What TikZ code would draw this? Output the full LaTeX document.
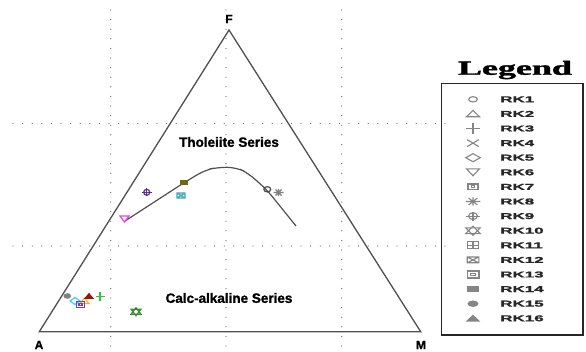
\documentclass[tikz,border=0pt]{standalone}
\usepackage{fontspec}
\usepackage{graphicx}
\setmainfont{Liberation Sans}
\newfontfamily\heavysans{Liberation Sans Bold}[FakeBold=1.2]
\newfontfamily\legserif{Liberation Serif Bold}[FakeBold=1.5]
\definecolor{gridgray}{HTML}{707070}
\definecolor{axisgray}{HTML}{505050}
\definecolor{leggray}{HTML}{858585}
\definecolor{rkmag}{HTML}{F040E0}
\definecolor{rkpurple}{HTML}{5B2C8A}
\definecolor{rkolive}{HTML}{6B6A10}
\definecolor{rkteal}{HTML}{40A8B0}
\definecolor{rkcyan}{HTML}{40D0F0}
\definecolor{rkviolet}{HTML}{7040B0}
\definecolor{rkorange}{HTML}{FFB020}
\definecolor{rkred}{HTML}{A01010}
\definecolor{rkgreen}{HTML}{30C040}
\definecolor{rkdgreen}{HTML}{3A8A3A}
\tikzset{
  x=1pt, y=-1pt,
  gridline/.style={gridgray, line width=1.3pt, line cap=round, dash pattern=on 0pt off 9.6pt},
  axisline/.style={axisgray, line width=1.3pt},
  vertexlabel/.style={font=\heavysans\fontsize{12}{14}\selectfont, inner sep=0pt},
  serieslabel/.style={font=\heavysans\fontsize{13.5}{15}\selectfont, inner sep=0pt},
  legitem/.style={font=\heavysans\fontsize{8.5}{10}\selectfont, inner sep=0pt, anchor=west, text=black!85},
  mk/.style={line width=1.2pt},
  legmark/.style={leggray, xscale=1.45, yscale=1.15, mk/.style={line width=1.1pt}},
  pics/rk1/.style={code={\draw[mk] (0,0) ellipse (3 and 2.3);}},
  pics/rk2/.style={code={\draw[mk] (-4.5,2.5) -- (4.5,2.5) -- (0,-3) -- cycle;}},
  pics/rk3/.style={code={\draw[mk] (-4.5,0) -- (4.5,0) (0,-4.5) -- (0,4.5);}},
  pics/rk4/.style={code={\draw[mk] (-4,-3) -- (4,3) (-4,3) -- (4,-3);}},
  pics/rk5/.style={code={\draw[mk] (-5,0) -- (0,-3.5) -- (5,0) -- (0,3.5) -- cycle;}},
  pics/rk6/.style={code={\draw[mk] (-4.5,-3) -- (4.5,-3) -- (0,3) -- cycle;}},
  pics/rk7/.style={code={\draw[line width=1.4pt] (-3.5,-2.5) rectangle (3.5,2.5); \draw[mk] (-1.3,-0.9) rectangle (1.3,0.9);}},
  pics/rk8/.style={code={\draw[mk] (-5,0) -- (5,0) (-3,-3) -- (3,3) (-3,3) -- (3,-3) (0,-3.5) -- (0,3.5);}},
  pics/rk9/.style={code={\draw[mk] (0,0) circle (3); \draw[mk] (-5,0) -- (5,0) (0,-4) -- (0,4);}},
  pics/rk10/.style={code={\draw[mk] (-5,2.5) -- (5,2.5) -- (0,-4) -- cycle; \draw[mk] (-5,-2.5) -- (5,-2.5) -- (0,4) -- cycle;}},
  pics/rk11/.style={code={\draw[mk] (-4,-3) rectangle (4,3) (0,-3) -- (0,3) (-4,0) -- (4,0);}},
  pics/rk12/.style={code={\draw[mk] (-4,-2.5) rectangle (4,2.5) (-4,-2.5) -- (4,2.5) (-4,2.5) -- (4,-2.5);}},
  pics/rk13/.style={code={\draw[line width=1.4pt] (-4,-3) rectangle (4,3); \draw[mk] (-1.5,-1.2) rectangle (1.5,1.2);}},
  pics/rk14/.style={code={\fill (-4,-2.7) rectangle (4,2.7);}},
  pics/rk15/.style={code={\fill (0,0) ellipse (3.8 and 2.8);}},
  pics/rk16/.style={code={\fill (-5,2.8) -- (5,2.8) -- (0,-3.2) -- cycle;}},
}
\begin{document}
\begin{tikzpicture}
\fill[white] (0,0) rectangle (586,351);
\useasboundingbox (0,0) rectangle (586,351);
% dotted grid
\draw[gridline] (110.7,10) -- (110.7,351);
\draw[gridline] (226,10) -- (226,351);
\draw[gridline] (341.7,10) -- (341.7,351);
\draw[gridline] (13,123.5) -- (450,123.5);
\draw[gridline] (13,246) -- (450,246);
% triangle
\coordinate (A) at (39.3,331.7);
\coordinate (M) at (420.7,331.7);
\coordinate (F) at (229,30);
\draw[axisline, line join=miter] (A) -- (M) -- (F) -- cycle;
\node[vertexlabel] (lF) at (229,19) {F};
\node[vertexlabel] (lA) at (39,345) {A};
\node[vertexlabel] (lM) at (421,345) {M};
\node[serieslabel] (thol) at (229,142) {Tholeiite Series};
\node[serieslabel] (calc) at (229,298) {Calc-alkaline Series};
% dividing curve
\draw[axisline, line width=1.2pt, rounded corners=9pt] (125,221) -- (182,184) -- (205,170) -- (218,167.3) -- (236,167.3) -- (248,173) -- (267,190) -- (296,226);
% data points
\pic[rkgreen] at (100,296.5) {rk3};
\pic[rkorange] at (84.5,301) {rk2};
\pic[rkcyan] at (75,301) {rk5};
\pic[rkviolet] at (80.5,304.5) {rk13};
\pic[gray] at (67.3,296) {rk15};
\pic[rkred] at (89,296) {rk16};
\pic[rkdgreen] at (136,311.7) {rk10};
\pic[rkmag] at (124.5,219) {rk6};
\pic[rkpurple] at (146.7,192.3) {rk9};
\pic[rkteal] at (181,195.5) {rk12};
\pic[rkolive] at (184,182.5) {rk14};
\pic[black!70, scale=1.15] at (267.3,189.3) {rk1};
\pic[gray] at (278.5,192.5) {rk8};
% legend
\node[inner sep=0pt, font=\legserif\fontsize{20}{22}\selectfont] (legtitle) at (515,70) {\scalebox{1.8}[1]{Legend}};
\draw[black!85, line width=1.3pt] (441.7,83.3) rectangle (583,335);
\foreach \i in {1,...,16} {
  \pic[legmark] at (473,{99.3+14.6*(\i-1)}) {rk\i};
  \node[legitem] (leg\i) at (500,{99.3+14.6*(\i-1)}) {\scalebox{2}[1]{RK\i}};
}
\end{tikzpicture}
\end{document}
